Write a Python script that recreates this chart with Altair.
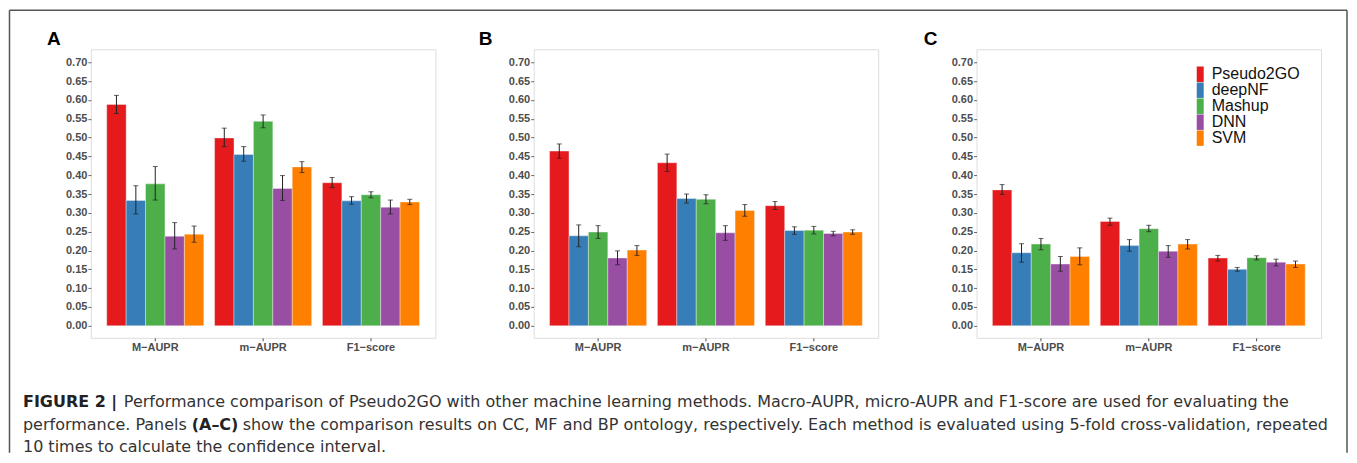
import altair as alt
import pandas as pd

metrics = ["M-AUPR", "m-AUPR", "F1-score"]
methods = ["Pseudo2GO", "deepNF", "Mashup", "DNN", "SVM"]
colors = ["#E41A1C", "#377EB8", "#4DAF4A", "#984EA3", "#FF7F00"]
y_ticks = [0.00, 0.05, 0.10, 0.15, 0.20, 0.25, 0.30, 0.35, 0.40, 0.45, 0.50, 0.55, 0.60, 0.65, 0.70]

# Panel A (CC): rows = metric, order of methods within
a_val = [0.588, 0.333, 0.377, 0.238, 0.243,
         0.499, 0.455, 0.543, 0.365, 0.422,
         0.380, 0.332, 0.348, 0.315, 0.329]
a_low = [0.564, 0.297, 0.334, 0.204, 0.222,
         0.476, 0.437, 0.526, 0.333, 0.407,
         0.367, 0.323, 0.340, 0.297, 0.322]
a_high = [0.612, 0.372, 0.423, 0.274, 0.265,
          0.525, 0.476, 0.560, 0.399, 0.436,
          0.394, 0.343, 0.356, 0.334, 0.336]

# Panel B (MF)
b_val = [0.464, 0.239, 0.249, 0.180, 0.201,
         0.433, 0.338, 0.336, 0.247, 0.306,
         0.319, 0.253, 0.254, 0.245, 0.249]
b_low = [0.445, 0.210, 0.232, 0.162, 0.187,
         0.410, 0.326, 0.324, 0.227, 0.291,
         0.309, 0.243, 0.244, 0.239, 0.243]
b_high = [0.483, 0.268, 0.266, 0.199, 0.213,
          0.456, 0.350, 0.348, 0.266, 0.322,
          0.330, 0.263, 0.264, 0.251, 0.255]

# Panel C (BP)
c_val = [0.361, 0.194, 0.217, 0.164, 0.184,
         0.277, 0.213, 0.258, 0.198, 0.217,
         0.180, 0.150, 0.181, 0.169, 0.164]
c_low = [0.349, 0.169, 0.202, 0.145, 0.162,
         0.267, 0.198, 0.250, 0.182, 0.204,
         0.172, 0.145, 0.175, 0.159, 0.155]
c_high = [0.375, 0.218, 0.232, 0.184, 0.207,
          0.286, 0.229, 0.267, 0.213, 0.229,
          0.187, 0.155, 0.186, 0.177, 0.172]

caption_l1_bold = "FIGURE 2 |"
caption_l1 = "Performance comparison of Pseudo2GO with other machine learning methods. Macro-AUPR, micro-AUPR and F1-score are used for evaluating the"
caption_l2a = "performance. Panels"
caption_l2_bold = "(A\u2013C)"
caption_l2b = "show the comparison results on CC, MF and BP ontology, respectively. Each method is evaluated using 5-fold cross-validation, repeated"
caption_l3 = "10 times to calculate the confidence interval."

W, H = 345, 289
YDOM = [-0.032, 0.7345]
AX_FONT = "Liberation Sans"
CAP_FONT = "DejaVu Sans"
CAP_SIZE = 16


def make_df(vals, lows, highs):
    rows = []
    i = 0
    for m in metrics:
        for meth in methods:
            rows.append({"metric": m, "method": meth, "value": vals[i], "low": lows[i], "high": highs[i]})
            i += 1
    return pd.DataFrame(rows)


def text_layer(txt, x, y, size, weight="normal", color="#333333", font=AX_FONT):
    return alt.Chart(pd.DataFrame({"t": [txt]})).mark_text(
        align="left", baseline="alphabetic", fontSize=size, fontWeight=weight,
        color=color, font=font
    ).encode(text="t:N", x=alt.value(x), y=alt.value(y))


def panel(vals, lows, highs, label, label_x, show_legend=False, extras=None):
    df = make_df(vals, lows, highs)
    yscale = alt.Scale(domain=YDOM, nice=False, zero=False)
    yaxis = alt.Axis(values=y_ticks, format=".2f", labelFont=AX_FONT,
                     labelFontSize=11, labelFontWeight="bold",
                     labelColor="#4d4d4d", tickColor="#666666",
                     tickSize=3, labelPadding=1, domain=False, grid=False,
                     labelOverlap=False, title=None)
    x = alt.X("metric:N", sort=metrics, title=None,
              scale=alt.Scale(paddingInner=0.1, paddingOuter=0.147),
              axis=alt.Axis(labelAngle=0, labelFont=AX_FONT, labelFontSize=11,
                            labelFontWeight="bold", labelColor="#4d4d4d",
                            tickColor="#4d4d4d", tickSize=3, labelPadding=1,
                            domain=False, grid=False,
                            labelExpr="replace(datum.label, '-', '\u2212')"))
    xo = alt.XOffset("method:N", sort=methods,
                     scale=alt.Scale(paddingInner=0, paddingOuter=0))
    if show_legend:
        leg = alt.Legend(orient="none", legendX=216, legendY=17, title=None,
                         symbolType="M-0.45,-1H0.45V1H-0.45Z", symbolSize=240,
                         symbolStrokeWidth=0, symbolOpacity=1,
                         labelFont=AX_FONT, labelFontSize=16, labelColor="#111111",
                         labelOffset=3.5, rowPadding=0, padding=0, labelLimit=0)
    else:
        leg = None
    color = alt.Color("method:N", sort=methods,
                      scale=alt.Scale(domain=methods, range=colors), legend=leg)
    base = alt.Chart(df)
    bars = base.mark_bar(stroke="#f4f4f4", strokeWidth=0.4).encode(
        x=x, xOffset=xo,
        y=alt.Y("value:Q", scale=yscale, title=None, axis=yaxis),
        y2=alt.datum(0),
        color=color,
    )
    rules = base.mark_rule(color="#222222", strokeWidth=1).encode(
        x=x, xOffset=xo, y=alt.Y("low:Q", scale=yscale, title=None, axis=yaxis), y2="high:Q")
    cap_lo = base.mark_tick(color="#222222", size=5, thickness=1, orient="horizontal").encode(
        x=x, xOffset=xo, y=alt.Y("low:Q", scale=yscale, title=None, axis=yaxis))
    cap_hi = base.mark_tick(color="#222222", size=5, thickness=1, orient="horizontal").encode(
        x=x, xOffset=xo, y=alt.Y("high:Q", scale=yscale, title=None, axis=yaxis))
    lab = text_layer(label, label_x, -4, 19, "bold", "#000000")
    layers = [bars, rules, cap_lo, cap_hi, lab]
    if extras:
        layers += extras
    return alt.layer(*layers).properties(width=W, height=H)


frame_color = "#555555"
frame = [
    alt.Chart(pd.DataFrame({"a": [0]})).mark_rule(color=frame_color, strokeWidth=1.5).encode(
        x=alt.value(-81.5), x2=alt.value(1258), y=alt.value(-39)),
    alt.Chart(pd.DataFrame({"a": [0]})).mark_rule(color=frame_color, strokeWidth=1.5).encode(
        x=alt.value(-81.5), y=alt.value(-39), y2=alt.value(404)),
    alt.Chart(pd.DataFrame({"a": [0]})).mark_rule(color=frame_color, strokeWidth=1.5).encode(
        x=alt.value(1258), y=alt.value(-39), y2=alt.value(404)),
]
cap = [
    text_layer(caption_l1_bold, -68, 358, CAP_SIZE, "bold", "#222222", CAP_FONT),
    text_layer(caption_l1, 33, 358, CAP_SIZE, "normal", "#333333", CAP_FONT),
    text_layer(caption_l2a, -68, 381, CAP_SIZE, "normal", "#333333", CAP_FONT),
    text_layer(caption_l2_bold, 101, 381, CAP_SIZE, "bold", "#222222", CAP_FONT),
    text_layer(caption_l2b, 152, 381, CAP_SIZE, "normal", "#333333", CAP_FONT),
    text_layer(caption_l3, -68, 403, CAP_SIZE, "normal", "#333333", CAP_FONT),
]

pA = panel(a_val, a_low, a_high, "A", -44, extras=frame + cap)
pB = panel(b_val, b_low, b_high, "B", -55)
pC = panel(c_val, c_low, c_high, "C", -53, show_legend=True)

chart = alt.hconcat(pA, pB, pC, spacing=98.5, bounds="flush").resolve_legend(
    color="independent"
).properties(padding=0).configure_view(stroke="#b8b8b8", strokeWidth=1).configure(
    background="white"
)

chart.save("out.html", embed_options={"renderer": "svg", "actions": False})
